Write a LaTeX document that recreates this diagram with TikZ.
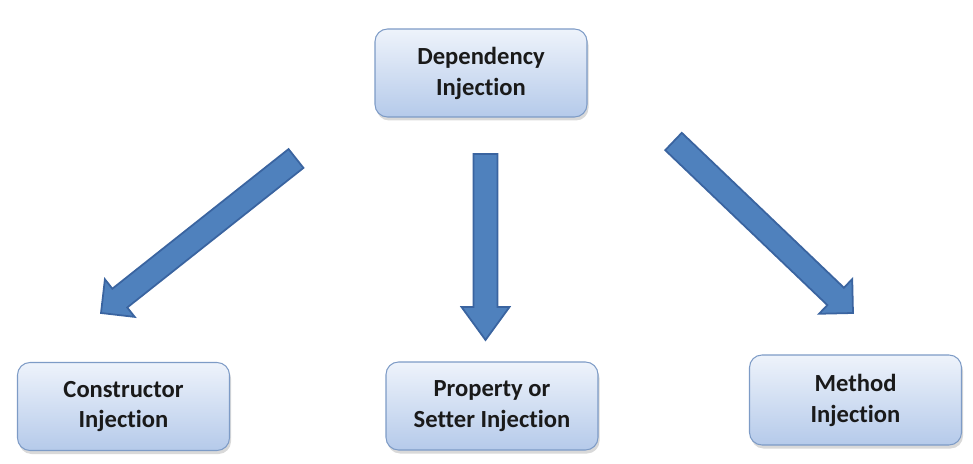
\documentclass[tikz,border=0pt]{standalone}
\usepackage{fontspec}
\setmainfont{Carlito}[Ligatures=NoCommon]
\usepackage{tikz}
\usetikzlibrary{calc,shadows}

\definecolor{boxtop}{HTML}{EEF3FB}
\definecolor{boxbot}{HTML}{B5CAEA}
\definecolor{boxline}{HTML}{7D9BC6}
\definecolor{arrowfill}{HTML}{4F81BD}
\definecolor{arrowline}{HTML}{3A64A0}
\definecolor{boxtext}{HTML}{1A1A1A}

\tikzset{
  box/.style={draw=boxline, line width=0.6pt, rounded corners=0.25cm,
    top color=boxtop, bottom color=boxbot,
    minimum width=4.24cm, minimum height=1.76cm, align=center,
    text=boxtext, font=\bfseries\fontsize{14}{17.6}\selectfont,
    drop shadow={opacity=0.3, shadow xshift=0.03cm, shadow yshift=-0.07cm}},
  fatarrow/.style={draw=arrowline, fill=arrowfill, line width=1pt, line join=miter}
}

\newcommand{\bigarrow}[3]{%
  \coordinate (#2h) at ($(#2)!#3!(#1)$);
  \draw[fatarrow] ($(#1)!0.24cm!90:(#2)$) -- ($(#2h)!0.24cm!90:(#2)$)
    -- ($(#2h)!0.48cm!90:(#2)$) -- (#2) -- ($(#2h)!0.48cm!-90:(#2)$)
    -- ($(#2h)!0.24cm!-90:(#2)$) -- ($(#1)!0.24cm!-90:(#2)$) -- cycle;
}

\begin{document}
\begin{tikzpicture}
\useasboundingbox (0,0) rectangle (19.46,9.26);

\node[box] (di) at (9.62,7.80) {Dependency\\Injection};

\node[box] (ci) at (2.47,1.13) {Constructor\\Injection};
\node[box] (pi) at (9.84,1.14) {Property or\\Setter Injection};
\node[box, minimum height=1.8cm] (mi) at (17.11,1.26) {Method\\Injection};

\coordinate (t1) at (5.92,6.09);
\coordinate (e1) at (2.02,3.00);
\coordinate (t2) at (9.71,6.18);
\coordinate (e2) at (9.71,2.46);
\coordinate (t3) at (13.47,6.43);
\coordinate (e3) at (17.06,3.00);

\bigarrow{t1}{e1}{0.48cm}
\bigarrow{t2}{e2}{0.66cm}
\bigarrow{t3}{e3}{0.48cm}
\end{tikzpicture}
\end{document}
